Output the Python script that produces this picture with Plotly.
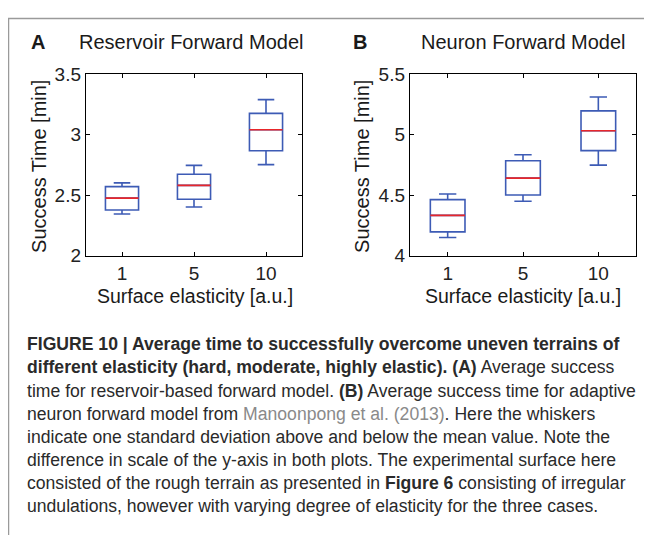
import plotly.graph_objects as go

# ---------------- data ----------------
categories = ["1", "5", "10"]

# Panel A: Reservoir forward model
res_upper = [2.603, 2.747, 3.290]
res_q3 = [2.572, 2.674, 3.177]
res_median = [2.477, 2.582, 3.041]
res_q1 = [2.378, 2.467, 2.868]
res_lower = [2.346, 2.404, 2.753]

# Panel B: Neuron forward model
neu_upper = [4.511, 4.835, 5.312]
neu_q3 = [4.464, 4.785, 5.197]
neu_median = [4.334, 4.642, 5.033]
neu_q1 = [4.198, 4.503, 4.869]
neu_lower = [4.151, 4.451, 4.749]

ticks_a = [2, 2.5, 3, 3.5]
ticks_b = [4, 4.5, 5, 5.5]

# page body has an 8px margin; the figure fills the rest of the window
OFF = 8
W, H = 652 - OFF, 546 - OFF
BLUE = "#3d5bb5"
RED = "#e8262a"
FONT = "Liberation Sans"
BOX_W = 0.46


def px(x):
    return (x - OFF) / W


def py(y):
    return 1 - (y - OFF) / H


fig = go.Figure()
positions = list(range(1, len(categories) + 1))


def add_panel(xa, ya, q1, med, q3, lo, hi):
    fig.add_trace(go.Box(
        x=positions, q1=q1, median=med, q3=q3,
        lowerfence=lo, upperfence=hi,
        width=BOX_W, whiskerwidth=0.5,
        line=dict(color=BLUE, width=1.6),
        fillcolor="rgba(0,0,0,0)",
        boxpoints=False, showlegend=False, hoverinfo="skip",
        xaxis=xa, yaxis=ya,
    ))
    mx, my = [], []
    for p, m in zip(positions, med):
        mx += [p - BOX_W / 2, p + BOX_W / 2, None]
        my += [m, m, None]
    fig.add_trace(go.Scatter(
        x=mx, y=my, mode="lines", line=dict(color=RED, width=1.6),
        showlegend=False, hoverinfo="skip", xaxis=xa, yaxis=ya,
    ))


add_panel("x", "y", res_q1, res_median, res_q3, res_lower, res_upper)
add_panel("x2", "y2", neu_q1, neu_median, neu_q3, neu_lower, neu_upper)

axis_common = dict(
    showline=True, linecolor="black", linewidth=1.4, mirror="ticks",
    ticks="inside", ticklen=4, tickcolor="black", tickwidth=1,
    showgrid=False, zeroline=False,
    tickfont=dict(family=FONT, size=19, color="#222"),
)

y_top, y_bot = 66.5, 255.5
fig.update_layout(
    width=W, height=H,
    margin=dict(l=0, r=0, t=0, b=0),
    paper_bgcolor="white", plot_bgcolor="white",
    xaxis=dict(domain=[px(86), px(302)], range=[0.5, 3.5],
               tickvals=positions, ticktext=categories, anchor="y", **axis_common),
    yaxis=dict(domain=[py(y_bot), py(y_top)], range=[ticks_a[0], ticks_a[-1]],
               tickvals=ticks_a, ticktext=[f"{t:g}" for t in ticks_a],
               anchor="x", **axis_common),
    xaxis2=dict(domain=[px(410), px(636)], range=[0.5, 3.5],
                tickvals=positions, ticktext=categories, anchor="y2", **axis_common),
    yaxis2=dict(domain=[py(y_bot), py(y_top)], range=[ticks_b[0], ticks_b[-1]],
                tickvals=ticks_b, ticktext=[f"{t:g}" for t in ticks_b],
                anchor="x2", **axis_common),
)

annotations = []


def ann(text, x, y, size=17, xanchor="center", yanchor="middle", angle=0,
        color="#1a1a1a", family=FONT):
    annotations.append(dict(
        text=text, x=px(x), y=py(y), xref="paper", yref="paper",
        showarrow=False, xanchor=xanchor, yanchor=yanchor, textangle=angle,
        font=dict(family=family, size=size, color=color),
    ))


# panel headers
ann("<b>A</b>", 38, 33, size=20)
ann("Reservoir Forward Model", 191, 33, size=20)
ann("<b>B</b>", 360, 33, size=20)
ann("Neuron Forward Model", 523, 33, size=20)

# axis titles
ann("Success Time [min]", 39, 163, size=20, angle=-90)
ann("Surface elasticity [a.u.]", 195, 297, size=19.5)
ann("Success Time [min]", 362, 163, size=20, angle=-90)
ann("Surface elasticity [a.u.]", 523, 297, size=19.5)

# caption
GRAY = "#8a8a8a"
caption_lines = [
    "<b>FIGURE 10 | Average time to successfully overcome uneven terrains of</b>",
    "<b>different elasticity (hard, moderate, highly elastic). (A)</b> Average success",
    "time for reservoir-based forward model. <b>(B)</b> Average success time for adaptive",
    f"neuron forward model from <span style='color:{GRAY}'>Manoonpong et al. (2013)</span>. Here the whiskers",
    "indicate one standard deviation above and below the mean value. Note the",
    "difference in scale of the y-axis in both plots. The experimental surface here",
    "consisted of the rough terrain as presented in <b>Figure 6</b> consisting of irregular",
    "undulations, however with varying degree of elasticity for the three cases.",
]
cap_y0 = 347.5
cap_dy = 24.1
for i, line in enumerate(caption_lines):
    ann(line, 25, cap_y0 + i * cap_dy, size=17.6, xanchor="left",
        color="#2a2a2a", family=FONT)

fig.update_layout(annotations=annotations)

# figure frame (top and left border)
fig.add_shape(type="line", xref="paper", yref="paper",
              x0=px(8), x1=1, y0=py(8.5), y1=py(8.5),
              line=dict(color="#9a9a9a", width=1.5))
fig.add_shape(type="line", xref="paper", yref="paper",
              x0=px(8.5), x1=px(8.5), y0=0, y1=py(8),
              line=dict(color="#9a9a9a", width=1.5))

fig.write_html("out.html")
